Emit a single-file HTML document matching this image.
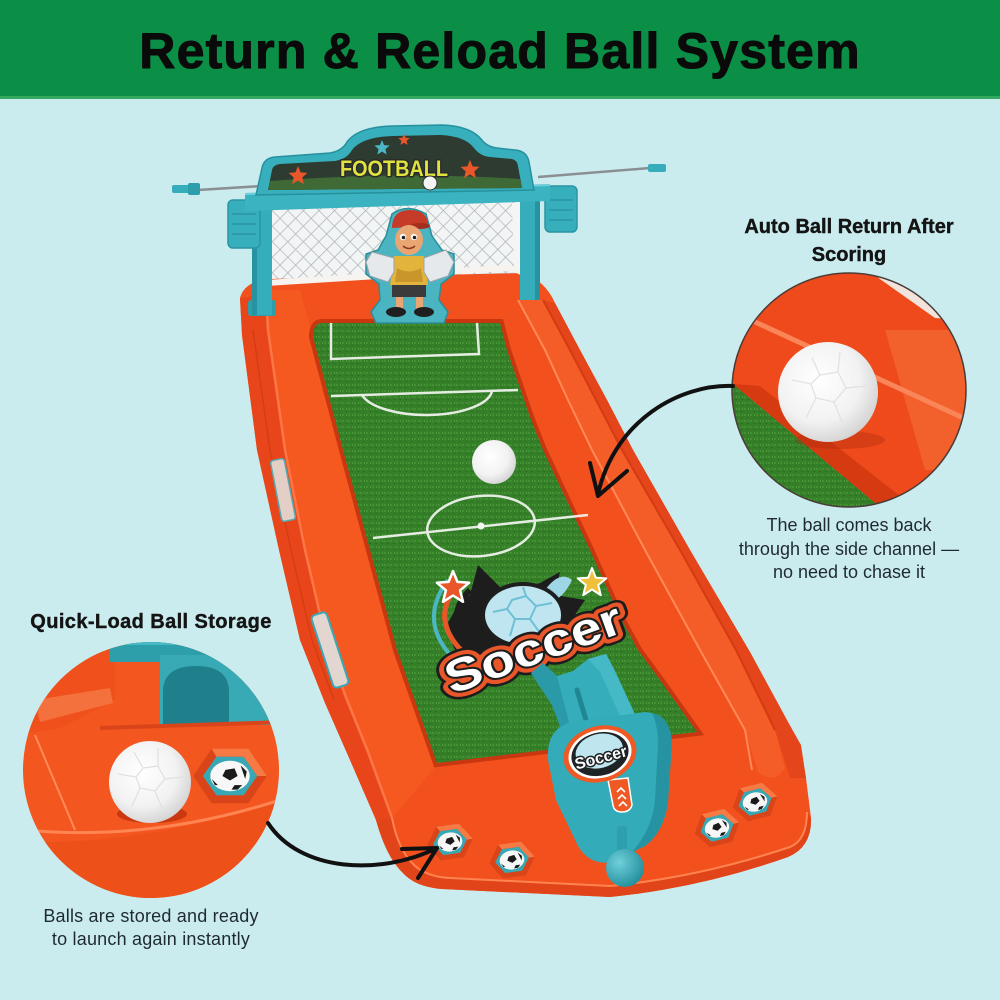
<!DOCTYPE html>
<html><head><meta charset="utf-8"><style>
html,body{margin:0;padding:0;background:#cbecef;}
svg{display:block;}
text{font-family:"Liberation Sans",Arial,sans-serif;}
</style></head><body>
<svg width="1000" height="1000" viewBox="0 0 1000 1000" xmlns="http://www.w3.org/2000/svg">
<defs>
<pattern id="grass" width="6" height="6" patternUnits="userSpaceOnUse"><rect width="6" height="6" fill="#357f29"/><rect x="0" y="0" width="2" height="2" fill="#428f34"/><rect x="3" y="3" width="2" height="1" fill="#2a6f21"/><rect x="4" y="0" width="1" height="2" fill="#4b983b"/></pattern>
<pattern id="net" width="11" height="11" patternUnits="userSpaceOnUse" patternTransform="rotate(45)"><rect width="11" height="11" fill="#f3f5f5"/><path d="M0,0 H11 M0,0 V11" stroke="#aeb8bd" stroke-width="1.6"/></pattern>
<radialGradient id="ballg" cx="0.4" cy="0.38" r="0.7"><stop offset="0" stop-color="#ffffff"/><stop offset="0.6" stop-color="#f2f2f2"/><stop offset="1" stop-color="#cdcdcd"/></radialGradient>
<radialGradient id="tealg" cx="0.35" cy="0.35" r="0.7"><stop offset="0" stop-color="#6fd0da"/><stop offset="1" stop-color="#238f9c"/></radialGradient>
<clipPath id="lc"><circle cx="151" cy="770" r="128"/></clipPath>
<clipPath id="rc"><circle cx="849" cy="390" r="117"/></clipPath>
<g id="minib"><ellipse cx="0" cy="0" rx="13" ry="10" fill="#f7f7f7"/><path d="M-3,-4 L3,-5 L5,0 L0,3 L-5,0 Z" fill="#1a1a1a"/><path d="M7,-7 L11,-3 L10,2 Z" fill="#1a1a1a"/><path d="M-12,2 L-8,6 L-10,6 Z" fill="#1a1a1a"/><path d="M3,6 L8,6 L5,9 L1,9 Z" fill="#1a1a1a"/></g>
<g id="hole"><polygon points="-23,0 -11.5,-17 11.5,-17 23,0 11.5,17 -11.5,17" fill="#d94418"/><polygon points="-11.5,-17 11.5,-17 23,0 17,0 8.5,-12 -8.5,-12" fill="#f77a45"/><polygon points="-17,0 -8.5,-12 8.5,-12 17,0 8.5,12 -8.5,12" fill="#38a8b4"/><g transform="scale(0.95)"><use href="#minib"/></g></g>
</defs>

<rect width="1000" height="1000" fill="#cbecef"/>
<rect width="1000" height="97" fill="#0b8f47"/>
<rect y="96" width="1000" height="3" fill="#35a860"/>
<text x="500" y="68" text-anchor="middle" font-size="50" font-weight="bold" fill="#0a0a0a" stroke="#0a0a0a" stroke-width="1" letter-spacing="1.2">Return &amp; Reload Ball System</text>

<!-- rods -->
<line x1="198" y1="190" x2="262" y2="186" stroke="#8a8f92" stroke-width="2.5"/>
<rect x="172" y="185" width="18" height="8" rx="2" fill="#36adba"/>
<rect x="188" y="183" width="12" height="12" rx="2" fill="#2d9fac"/>
<line x1="538" y1="177" x2="650" y2="168" stroke="#8a8f92" stroke-width="2.5"/>
<rect x="648" y="164" width="18" height="8" rx="2" fill="#36adba"/>

<!-- net -->
<polygon points="266,207 522,199 522,272 266,283" fill="url(#net)"/>
<polygon points="512,203 530,200 532,290 514,272" fill="#f5f5f5"/>

<!-- tray silhouette -->
<path d="M240,298 L242,335 L257,450 L279,550 L300,640 L325,703 L350,760 L376,820 Q386,856 402,872 Q415,887 442,889 L610,897 Q700,888 788,857 Q812,847 811,818 L806,778 Q801,745 788,722 L750,652 L690,550 L633,450 L607,400 L580,350 L555,303 Q545,280 522,273 L268,279 Q244,282 240,298 Z" fill="#f2501d"/>
<path d="M240,298 L242,335 L257,450 L279,550 L300,640 L325,703 L350,760 L376,820 Q386,856 402,872 L412,860 Q398,845 392,818 L368,752 L345,695 L326,640 L305,550 L285,450 L268,330 L266,295 Z" fill="#e8461a"/>
<polyline points="253,330 270,450 291,550 312,640 334,700" fill="none" stroke="#d43d13" stroke-width="1.5"/>
<path d="M266,290 L268,330 L285,450 L305,550 L326,640 L345,695 L368,752 L392,818 L437,765 L397,650 L370,550 L343,450 L313,337 L300,290 Z" fill="#f5591f"/>
<polyline points="266,292 268,330 285,450 305,550 326,640 345,695 368,752 392,818" fill="none" stroke="#ff8052" stroke-width="2.5" opacity="0.8"/>
<path d="M555,303 L580,350 L607,400 L633,450 L690,550 L750,652 L788,722 L801,745 L806,778 L790,778 L775,730 L736,650 L680,550 L622,450 L596,400 L570,350 L543,300 Z" fill="#e4451a"/>
<path d="M543,300 L570,350 L596,400 L622,450 L680,550 L736,650 L775,730 L785,768 Q775,785 758,772 L745,730 L700,650 L645,550 L592,450 L568,400 L545,350 L518,300 Z" fill="#f55d28"/>
<polyline points="518,300 545,350 568,400 592,450 645,550 700,650 745,730 752,770" fill="none" stroke="#ff8a58" stroke-width="2"/>
<polyline points="543,300 570,350 596,400 622,450 680,550 736,650 775,730" fill="none" stroke="#d33b12" stroke-width="2"/>
<path d="M392,818 Q398,850 415,866 Q428,877 450,878 L610,886 Q700,877 790,847 Q807,840 807,812 L811,818 Q812,847 788,857 Q700,888 610,897 L442,889 Q415,887 402,872 Q386,856 376,820 Z" fill="#e04418"/>
<path d="M392,818 Q398,850 415,866 Q428,877 450,878 L610,886 Q700,877 790,847 Q807,840 807,812" fill="none" stroke="#ff8450" stroke-width="2"/>
<path d="M266,283 L505,268 Q528,268 537,292" fill="none" stroke="#f7f3ef" stroke-width="6"/>

<!-- decals -->
<g transform="translate(283,490) rotate(79)"><rect x="-31" y="-7" width="62" height="14" rx="3" fill="#e3cfc6" stroke="#58a9b0" stroke-width="1.5"/></g>
<g transform="translate(330,650) rotate(72)"><rect x="-38" y="-8" width="76" height="16" rx="4" fill="#e3d6d0" stroke="#3aa8b5" stroke-width="2"/></g>

<!-- green field -->
<path d="M322,323 L500,323 L507,350 L530,417 L543,450 L590,550 L620,617 L638,650 L660,680 L697,732 L437,763 L397,650 L370,550 L343,450 L313,337 Q313,323 322,323 Z" fill="none" stroke="#c8370f" stroke-width="8"/>
<path d="M322,323 L500,323 L507,350 L530,417 L543,450 L590,550 L620,617 L638,650 L660,680 L697,732 L437,763 L397,650 L370,550 L343,450 L313,337 Q313,323 322,323 Z" fill="url(#grass)"/>
<g stroke="#f4f6f2" stroke-width="2.5" fill="none" opacity="0.92">
<path d="M331,323 L331,359 L479,354 L477,323"/>
<path d="M331,396 L518,390"/>
<path d="M362,395 A66 26 0 0 0 492,391"/>
<path d="M373,538 L588,515"/>
<ellipse cx="481" cy="526" rx="54" ry="30" transform="rotate(-6 481 526)"/>
</g>
<circle cx="481" cy="526" r="3.5" fill="#f4f6f2"/>
<circle cx="494" cy="462" r="22" fill="url(#ballg)"/>

<!-- soccer logo -->
<polygon points="478,565 505,592 540,583 560,572 555,595 585,600 575,615 600,625 585,640 560,655 520,670 480,668 455,650 445,628 458,605 470,595" fill="#1d1d1d"/>
<path d="M470,642 Q444,616 470,590" stroke="#1d1d1d" stroke-width="6" fill="none"/>
<path d="M461,650 Q430,618 458,584" stroke="#e8562a" stroke-width="5" fill="none"/>
<path d="M452,657 Q418,620 448,580" stroke="#4bb7c5" stroke-width="4" fill="none"/>
<path d="M545,590 Q560,570 572,580 Q565,595 555,600 Z" fill="#9fd6e6"/>
<polygon points="453,571 457.4,581.9 469.2,582.7 460.1,590.3 463,601.8 453,595.5 443,601.8 445.9,590.3 436.8,582.7 448.6,581.9" fill="#e8562a" stroke="#fff" stroke-width="2.5" stroke-linejoin="round"/>
<polygon points="592,568 595.8,577.7 606.3,578.4 598.2,585 600.8,595.1 592,589.5 583.2,595.1 585.8,585 577.7,578.4 588.2,577.7" fill="#f1c03a" stroke="#fff" stroke-width="2" stroke-linejoin="round"/>
<ellipse cx="523" cy="615" rx="42" ry="33" fill="#1e1e1e"/>
<ellipse cx="523" cy="615" rx="38" ry="29" fill="#bfe6f0"/>
<g stroke="#6fbfd6" stroke-width="2" fill="none">
<polygon points="512,600 526,596 536,606 530,619 515,619 507,609"/>
<path d="M507,609 L493,612 M515,619 L510,636 M530,619 L540,633 M536,606 L552,603 M526,596 L523,587"/>
</g>
<g transform="translate(533,648) rotate(-20)">
<text x="0" y="16" text-anchor="middle" font-size="46" font-weight="bold" fill="#fff" stroke="#1d1d1d" stroke-width="17" stroke-linejoin="round" textLength="185" lengthAdjust="spacingAndGlyphs">Soccer</text>
<text x="0" y="16" text-anchor="middle" font-size="46" font-weight="bold" fill="#fff" stroke="#e8562a" stroke-width="12" stroke-linejoin="round" textLength="185" lengthAdjust="spacingAndGlyphs">Soccer</text>
<text x="0" y="16" text-anchor="middle" font-size="46" font-weight="bold" fill="#fff" stroke="#1d1d1d" stroke-width="4" stroke-linejoin="round" paint-order="stroke" textLength="185" lengthAdjust="spacingAndGlyphs">Soccer</text>
</g>

<!-- goal posts & banner -->
<rect x="248" y="300" width="28" height="16" rx="3" fill="#2d9fac"/>
<rect x="252" y="200" width="20" height="115" fill="#35adba"/>
<rect x="252" y="200" width="5" height="115" fill="#2793a0"/>
<rect x="228" y="200" width="32" height="48" rx="5" fill="#36aebb" stroke="#2a95a1" stroke-width="1.5"/>
<path d="M232,214 H256 M232,224 H256 M232,234 H256" stroke="#2a95a1" stroke-width="1.5"/>
<rect x="520" y="190" width="20" height="110" fill="#35adba"/>
<rect x="535" y="190" width="5" height="110" fill="#2793a0"/>
<rect x="545" y="186" width="32" height="46" rx="5" fill="#36aebb" stroke="#2a95a1" stroke-width="1.5"/>
<path d="M549,200 H573 M549,210 H573 M549,220 H573" stroke="#2a95a1" stroke-width="1.5"/>
<polygon points="245,193 550,184 550,201 245,211" fill="#3bb3c0"/>
<line x1="245" y1="194" x2="550" y2="185" stroke="#6fd0da" stroke-width="2"/>
<path d="M256,195 L262,168 Q264,158 275,157 L330,153 Q342,151 347,142 Q358,127 392,126 L442,125 Q470,126 481,139 Q487,147 497,148 L515,150 Q527,151 529,162 L534,190 Z" fill="#37afbc" stroke="#26919d" stroke-width="1.5"/>
<path d="M268,190 L272,170 Q273,165 280,164 L335,161 Q347,159 352,150 Q362,137 393,136 L440,135 Q465,136 474,148 Q480,156 490,157 L512,159 Q517,160 518,166 L522,188 Z" fill="#2e3b30"/>
<path d="M268,190 L270,181 Q400,171 520,179 L522,188 Z" fill="#3f6a35"/>
<polygon points="298,166 300.6,172.4 307.5,172.9 302.3,177.4 303.9,184.1 298,180.5 292.1,184.1 293.7,177.4 288.5,172.9 295.4,172.4" fill="#e8562a"/>
<polygon points="470,160 472.6,166.4 479.5,166.9 474.3,171.4 475.9,178.1 470,174.5 464.1,178.1 465.7,171.4 460.5,166.9 467.4,166.4" fill="#e8562a"/>
<polygon points="382,140 384.1,145.1 389.6,145.5 385.4,149.1 386.7,154.5 382,151.6 377.3,154.5 378.6,149.1 374.4,145.5 379.9,145.1" fill="#4bb7c5"/>
<polygon points="404,134 405.6,137.8 409.7,138.1 406.6,140.8 407.5,144.9 404,142.7 400.5,144.9 401.4,140.8 398.3,138.1 402.4,137.8" fill="#e8562a"/>
<text x="394" y="176" text-anchor="middle" font-size="22" font-weight="bold" fill="#dfe23f" stroke="#2a2a2a" stroke-width="3" paint-order="stroke" stroke-linejoin="round" textLength="108" lengthAdjust="spacingAndGlyphs">FOOTBALL</text>
<circle cx="430" cy="183" r="7" fill="#f4f4f4" stroke="#333" stroke-width="1"/>

<!-- goalkeeper -->
<path d="M392,214 Q407,203 426,214 L432,236 L442,250 L454,254 L454,274 L441,284 L439,300 L448,312 L444,323 L376,323 L371,312 L380,300 L379,284 L366,274 L366,254 L378,250 L386,236 Z" fill="#4ab4c1" stroke="#2a8e9a" stroke-width="1.5"/>
<path d="M392,228 Q392,210 410,210 Q428,210 428,226 Z" fill="#c63a28"/>
<ellipse cx="420" cy="226" rx="10" ry="3" fill="#a52e1f"/>
<ellipse cx="409" cy="240" rx="14" ry="15" fill="#e9a673"/>
<circle cx="403" cy="237" r="3.2" fill="#fff"/><circle cx="414" cy="237" r="3.2" fill="#fff"/>
<circle cx="403.5" cy="237.5" r="1.8" fill="#222"/><circle cx="414.5" cy="237.5" r="1.8" fill="#222"/>
<path d="M403,246 Q409,251 415,246" stroke="#8a3a20" stroke-width="1.5" fill="none"/>
<path d="M394,256 L424,256 L428,285 L390,285 Z" fill="#e2b43c"/>
<path d="M397,268 Q409,275 421,268 L423,282 L395,282 Z" fill="#c8962a"/>
<path d="M394,258 L372,252 L366,262 L370,276 L388,282 L394,272 Z" fill="#e6e9ec" stroke="#9aa4aa" stroke-width="1"/>
<path d="M424,258 L446,250 L454,262 L448,276 L430,282 L424,272 Z" fill="#e6e9ec" stroke="#9aa4aa" stroke-width="1"/>
<rect x="392" y="285" width="34" height="12" fill="#3b3b3b"/>
<rect x="396" y="297" width="7" height="12" fill="#e9a673"/><rect x="416" y="297" width="7" height="12" fill="#e9a673"/>
<ellipse cx="396" cy="312" rx="10" ry="5" fill="#1f1f1f"/><ellipse cx="424" cy="312" rx="10" ry="5" fill="#1f1f1f"/>

<!-- launcher -->
<path d="M531,673 L543,663 L557,676 L573,671 L588,659 L606,654 L614,669 L646,738 L570,752 L552,705 Z" fill="#36adbb"/>
<path d="M543,663 L557,676 L575,745 L570,752 L552,705 L531,673 Z" fill="#2a9aa8"/>
<path d="M588,659 L606,654 L614,669 L646,738 L632,742 L600,672 Z" fill="#45bac6"/>
<path d="M577,690 L592,740" stroke="#1f8794" stroke-width="5" stroke-linecap="round"/>
<path d="M548,760 Q546,728 572,722 L645,712 Q670,714 672,742 L668,802 Q664,832 645,846 L612,862 Q590,866 578,846 L556,800 Z" fill="#34abb9"/>
<path d="M652,713 Q670,716 672,742 L668,802 Q664,832 645,846 L632,852 Q652,830 655,800 L658,745 Q658,725 652,713 Z" fill="#2593a1"/>
<path d="M608,780 L628,778 L632,805 Q630,812 622,812 Q614,812 613,805 Z" fill="#ef5a24" stroke="#fff" stroke-width="1.5"/>
<path d="M617,792 L621,788 L625,792 M618,799 L622,795 L626,799 M619,806 L623,802 L627,806" stroke="#fff" stroke-width="1.6" fill="none"/>
<g transform="rotate(-15 600 754)">
<ellipse cx="600" cy="754" rx="37" ry="28" fill="#ef5a24"/>
<ellipse cx="600" cy="754" rx="32" ry="24" fill="#fff"/>
<ellipse cx="600" cy="754" rx="29" ry="21.5" fill="#1e2326"/>
<ellipse cx="600" cy="751" rx="24" ry="17" fill="#bfe5ee"/>
<text x="600" y="763" text-anchor="middle" font-size="16" font-weight="bold" fill="#fff" stroke="#1e2326" stroke-width="3" paint-order="stroke" stroke-linejoin="round">Soccer</text>
</g>
<rect x="617" y="826" width="10" height="30" rx="3" fill="#2d9fad"/>
<circle cx="625" cy="868" r="19" fill="url(#tealg)"/>

<!-- holes -->
<use href="#hole" transform="translate(450,842) rotate(-8)"/>
<use href="#hole" transform="translate(512,860) rotate(-8)"/>
<use href="#hole" transform="translate(717,828) rotate(-14)"/>
<use href="#hole" transform="translate(755,802) rotate(-14)"/>

<!-- right circle -->
<g clip-path="url(#rc)">
<rect x="730" y="270" width="240" height="240" fill="#ef4a1b"/>
<polygon points="870,272 960,272 968,320 935,318" fill="#f2e4dc"/>
<polygon points="885,330 970,330 970,470 925,470" fill="#f2602c"/>
<path d="M740,315 L968,420" stroke="#f98558" stroke-width="5"/>
<polygon points="733,384 880,507 905,500 760,386" fill="#d63a11"/>
<polygon points="725,380 733,384 880,507 725,515" fill="url(#grass)"/>
<ellipse cx="840" cy="440" rx="45" ry="9" fill="#a82c0c" opacity="0.35"/>
<circle cx="828" cy="392" r="50" fill="url(#ballg)"/>
<g stroke="#e2e2e2" stroke-width="1.3" fill="none"><polygon points="820,375 838,372 846,388 834,402 816,398 811,384"/><path d="M811,384 L792,380 M816,398 L806,418 M834,402 L842,422 M846,388 L866,386 M838,372 L840,352 M820,375 L812,358"/></g>
</g>
<circle cx="849" cy="390" r="117" fill="none" stroke="#4b3b36" stroke-width="1.5"/>

<!-- left circle -->
<g clip-path="url(#lc)">
<rect x="20" y="640" width="265" height="260" fill="#f3561f"/>
<path d="M20,640 L115,640 L115,700 L60,728 L20,735 Z" fill="#f0501b"/>
<polygon points="35,700 110,688 113,703 40,722" fill="#f4713d"/>
<path d="M35,735 L75,830" stroke="#ff8a5a" stroke-width="2"/>
<rect x="110" y="640" width="175" height="22" fill="#2d9fab"/>
<rect x="160" y="655" width="125" height="70" fill="#38aab6"/>
<path d="M163,725 L163,692 Q163,666 196,666 Q229,666 229,692 L229,725 Z" fill="#1f7f8b"/>
<rect x="110" y="640" width="175" height="5" fill="#47b9c4"/>
<path d="M100,728 L285,722" stroke="#d9441a" stroke-width="4"/>
<use href="#hole" transform="translate(230,776) scale(1.6)"/>
<ellipse cx="152" cy="814" rx="35" ry="9" fill="#c9380f"/>
<circle cx="150" cy="782" r="41" fill="url(#ballg)"/>
<g stroke="#e0e0e0" stroke-width="1.2" fill="none"><polygon points="143,768 158,766 165,779 155,791 140,788 136,777"/><path d="M136,777 L118,774 M140,788 L132,806 M155,791 L162,808 M165,779 L183,777 M158,766 L158,748 M143,768 L134,752"/></g>
<path d="M20,842 Q140,846 285,800 L285,900 L20,900 Z" fill="#ee5019"/>
<path d="M25,830 Q150,842 280,800" fill="none" stroke="#ff8552" stroke-width="3"/>
</g>

<!-- arrows -->
<g stroke="#111" stroke-width="4" fill="none" stroke-linecap="round" stroke-linejoin="round">
<path d="M733,386 C680,384 615,420 598,494"/>
<path d="M590,463 L598,496 L627,471"/>
<path d="M268,823 C300,872 380,876 437,848"/>
<path d="M402,849 L437,848 L418,878"/>
</g>

<!-- texts -->
<g fill="#141414" stroke="#141414" stroke-width="0.4" font-weight="bold" font-size="20" text-anchor="middle">
<text x="849" y="233">Auto Ball Return After</text>
<text x="849" y="261">Scoring</text>
<text x="151" y="628" letter-spacing="0.4">Quick-Load Ball Storage</text>
</g>
<g fill="#1f2a30" font-size="18" text-anchor="middle">
<text x="849" y="531">The ball comes back</text>
<text x="849" y="555">through the side channel —</text>
<text x="849" y="578">no need to chase it</text>
<text x="151" y="922" letter-spacing="0.2">Balls are stored and ready</text>
<text x="151" y="945" letter-spacing="0.2">to launch again instantly</text>
</g>
</svg>
</body></html>
